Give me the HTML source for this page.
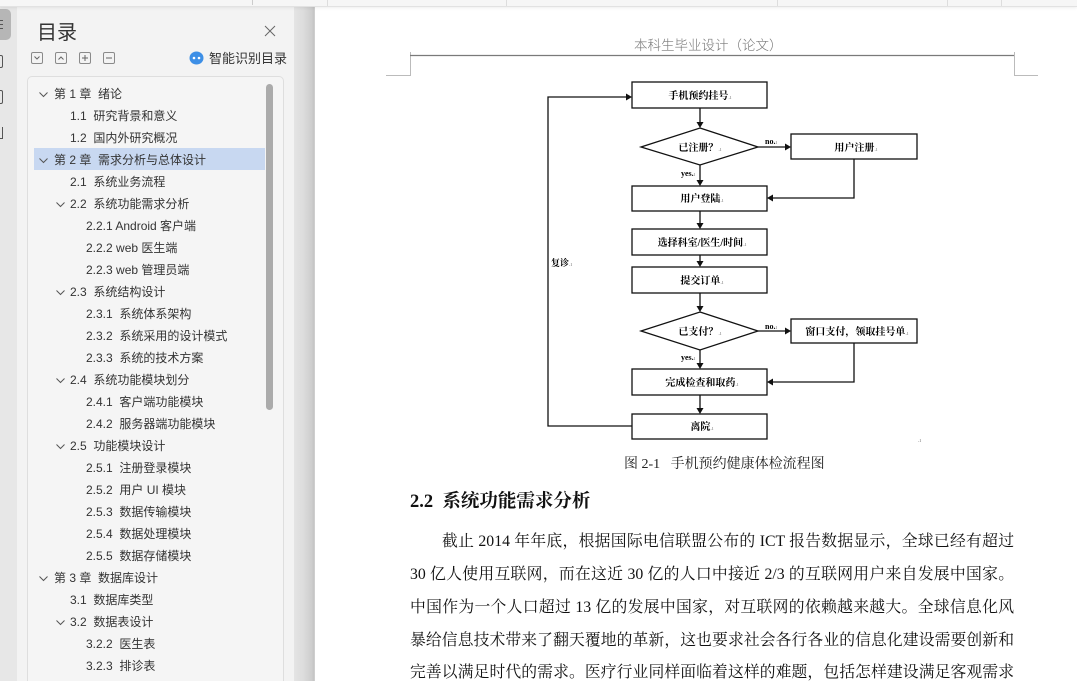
<!DOCTYPE html>
<html><head><meta charset="utf-8">
<style>
*{margin:0;padding:0;box-sizing:border-box}
html,body{width:1077px;height:681px;overflow:hidden;background:#fff}
body{position:relative;font-family:"Liberation Sans","Noto Sans CJK SC",sans-serif}
.abs{position:absolute}
#topbar{left:0;top:0;width:1077px;height:7px;background:#f6f6f6;border-bottom:1px solid #e2e2e2;box-shadow:0 1px 3px rgba(0,0,0,.07);z-index:5}
#strip{left:0;top:0;width:17px;height:681px;background:#e7e7e7}
#panel{left:17px;top:0;width:277px;height:681px;background:#f3f3f3}
#grad{left:294px;top:0;width:21px;height:681px;background:linear-gradient(to right,#e4e4e4 0%,#dcdcdc 45%,#cdcdcd 85%,#c2c2c2 97%,#e8e8e8 100%)}
#listbox{left:27px;top:76px;width:257px;height:620px;background:#f5f5f5;border:1px solid #dedede;border-radius:5px}
.row{position:absolute;height:22px;line-height:24px;font-size:12px;color:#333;white-space:nowrap}
.hl{background:#c8d8f1}
.btn{position:absolute;top:52px;width:12px;height:12px;border:1px solid #8a8a8a;border-radius:2px}
.doc{font-family:"Liberation Serif","Noto Serif CJK SC",serif;color:#111}
.pl{position:absolute;left:410px;width:604px;height:22px;line-height:22px;font-size:15.8px;text-align:justify;text-align-last:justify;white-space:nowrap;font-family:"Liberation Serif","Noto Serif CJK SC",serif;color:#111}
</style></head><body>

<div id="strip" class="abs"></div>
<div class="abs" style="left:0;top:9px;width:11px;height:31px;background:#b6b6b6;border-radius:0 5px 5px 0"></div>
<div class="abs" style="left:0;top:20px;width:3px;height:1px;background:#555"></div>
<div class="abs" style="left:0;top:24px;width:3px;height:1px;background:#555"></div>
<div class="abs" style="left:0;top:28px;width:3px;height:1px;background:#555"></div>
<div class="abs" style="left:-4px;top:55px;width:7px;height:13px;border:1px solid #555;border-radius:2px"></div>
<div class="abs" style="left:-4px;top:90px;width:7px;height:14px;border:1px solid #555;border-radius:2px"></div>
<div class="abs" style="left:-3px;top:127px;width:6px;height:12px;border-right:1px solid #555;border-bottom:1px solid #555"></div>

<div id="panel" class="abs"></div>
<div id="grad" class="abs"></div>

<div class="abs" style="left:37px;top:18px;font-size:20px;line-height:26px;color:#333;font-family:'Noto Sans CJK SC',sans-serif">目录</div>
<svg class="abs" style="left:264px;top:25px" width="12" height="12"><path d="M1 1L11 11M11 1L1 11" stroke="#666" stroke-width="1"/></svg>

<div class="btn" style="left:31px"><svg width="10" height="10" style="display:block"><polyline points="2.5,3.5 5,6 7.5,3.5" fill="none" stroke="#666"/></svg></div>
<div class="btn" style="left:55px"><svg width="10" height="10" style="display:block"><polyline points="2.5,6.5 5,4 7.5,6.5" fill="none" stroke="#666"/></svg></div>
<div class="btn" style="left:79px"><svg width="10" height="10" style="display:block"><path d="M2 5H8M5 2V8" stroke="#666"/></svg></div>
<div class="btn" style="left:103px"><svg width="10" height="10" style="display:block"><path d="M2 5H8" stroke="#666"/></svg></div>

<svg class="abs" style="left:189px;top:51px" width="15" height="14"><ellipse cx="7.5" cy="7" rx="7" ry="6.5" fill="#3d8fe6"/><circle cx="5" cy="7" r="1.3" fill="#fff"/><circle cx="10" cy="7" r="1.3" fill="#fff"/></svg>
<div class="abs" style="left:209px;top:49px;font-size:13px;line-height:18px;color:#333;font-family:'Noto Sans CJK SC',sans-serif">智能识别目录</div>

<div id="listbox" class="abs"></div>
<div class="abs hl" style="left:34px;top:148px;width:231px;height:22px"></div>
<div class="abs" style="left:266px;top:84px;width:7px;height:326px;background:#ababab;border-radius:4px"></div>

<div id="toc">
<svg class="abs" style="left:39px;top:92px" width="10" height="6"><polyline points="0.5,0.5 4.5,4.5 8.5,0.5" fill="none" stroke="#555"/></svg>
<div class="row" style="left:54px;top:82px">第 1 章&nbsp; 绪论</div>
<div class="row" style="left:70px;top:104px">1.1&nbsp; 研究背景和意义</div>
<div class="row" style="left:70px;top:126px">1.2&nbsp; 国内外研究概况</div>
<svg class="abs" style="left:39px;top:158px" width="10" height="6"><polyline points="0.5,0.5 4.5,4.5 8.5,0.5" fill="none" stroke="#555"/></svg>
<div class="row" style="left:54px;top:148px">第 2 章&nbsp; 需求分析与总体设计</div>
<div class="row" style="left:70px;top:170px">2.1&nbsp; 系统业务流程</div>
<svg class="abs" style="left:56px;top:202px" width="10" height="6"><polyline points="0.5,0.5 4.5,4.5 8.5,0.5" fill="none" stroke="#555"/></svg>
<div class="row" style="left:70px;top:192px">2.2&nbsp; 系统功能需求分析</div>
<div class="row" style="left:86px;top:214px">2.2.1 Android 客户端</div>
<div class="row" style="left:86px;top:236px">2.2.2 web 医生端</div>
<div class="row" style="left:86px;top:258px">2.2.3 web 管理员端</div>
<svg class="abs" style="left:56px;top:290px" width="10" height="6"><polyline points="0.5,0.5 4.5,4.5 8.5,0.5" fill="none" stroke="#555"/></svg>
<div class="row" style="left:70px;top:280px">2.3&nbsp; 系统结构设计</div>
<div class="row" style="left:86px;top:302px">2.3.1&nbsp; 系统体系架构</div>
<div class="row" style="left:86px;top:324px">2.3.2&nbsp; 系统采用的设计模式</div>
<div class="row" style="left:86px;top:346px">2.3.3&nbsp; 系统的技术方案</div>
<svg class="abs" style="left:56px;top:378px" width="10" height="6"><polyline points="0.5,0.5 4.5,4.5 8.5,0.5" fill="none" stroke="#555"/></svg>
<div class="row" style="left:70px;top:368px">2.4&nbsp; 系统功能模块划分</div>
<div class="row" style="left:86px;top:390px">2.4.1&nbsp; 客户端功能模块</div>
<div class="row" style="left:86px;top:412px">2.4.2&nbsp; 服务器端功能模块</div>
<svg class="abs" style="left:56px;top:444px" width="10" height="6"><polyline points="0.5,0.5 4.5,4.5 8.5,0.5" fill="none" stroke="#555"/></svg>
<div class="row" style="left:70px;top:434px">2.5&nbsp; 功能模块设计</div>
<div class="row" style="left:86px;top:456px">2.5.1&nbsp; 注册登录模块</div>
<div class="row" style="left:86px;top:478px">2.5.2&nbsp; 用户 UI 模块</div>
<div class="row" style="left:86px;top:500px">2.5.3&nbsp; 数据传输模块</div>
<div class="row" style="left:86px;top:522px">2.5.4&nbsp; 数据处理模块</div>
<div class="row" style="left:86px;top:544px">2.5.5&nbsp; 数据存储模块</div>
<svg class="abs" style="left:39px;top:576px" width="10" height="6"><polyline points="0.5,0.5 4.5,4.5 8.5,0.5" fill="none" stroke="#555"/></svg>
<div class="row" style="left:54px;top:566px">第 3 章&nbsp; 数据库设计</div>
<div class="row" style="left:70px;top:588px">3.1&nbsp; 数据库类型</div>
<svg class="abs" style="left:56px;top:620px" width="10" height="6"><polyline points="0.5,0.5 4.5,4.5 8.5,0.5" fill="none" stroke="#555"/></svg>
<div class="row" style="left:70px;top:610px">3.2&nbsp; 数据表设计</div>
<div class="row" style="left:86px;top:632px">3.2.2&nbsp; 医生表</div>
<div class="row" style="left:86px;top:654px">3.2.3&nbsp; 排诊表</div>
</div>

<div id="topbar" class="abs"></div>
<div class="abs" style="left:252px;top:0;width:1px;height:5px;background:#ccc;z-index:6"></div>
<div class="abs" style="left:327px;top:0;width:1px;height:6px;background:#ddd;z-index:6"></div>
<div class="abs" style="left:506px;top:0;width:1px;height:6px;background:#ddd;z-index:6"></div>
<div class="abs" style="left:777px;top:0;width:1px;height:6px;background:#ddd;z-index:6"></div>
<div class="abs" style="left:947px;top:0;width:1px;height:6px;background:#ddd;z-index:6"></div>
<div class="abs" style="left:1001px;top:0;width:1px;height:6px;background:#ddd;z-index:6"></div>

<div class="abs" style="left:634px;top:35px;width:150px;font-size:13.5px;line-height:18px;color:#777;white-space:nowrap;font-family:'Noto Sans CJK SC',sans-serif;font-weight:300">本科生毕业设计（论文）</div>

<svg class="abs" style="left:0;top:0" width="1077" height="681">
<g stroke="#bbb" stroke-width="1" fill="none">
<path d="M410.5 52V75.5H386M1014.5 52V75.5H1038"/>
</g>
<path d="M410 55.5H1014" stroke="#7a7a7a" stroke-width="1.3"/>

<g stroke="#111" stroke-width="1.3" fill="#fff">
<rect x="632" y="82" width="135" height="26"/>
<polygon points="700,128 758,147 700,165 641,147"/>
<rect x="791" y="134" width="126" height="25"/>
<rect x="632" y="186" width="135" height="25"/>
<rect x="632" y="229" width="135" height="26"/>
<rect x="632" y="267" width="135" height="26"/>
<polygon points="700,312 758,331 700,350 641,331"/>
<rect x="791" y="319" width="126" height="24"/>
<rect x="632" y="369" width="135" height="26"/>
<rect x="632" y="414" width="135" height="25"/>
</g>
<g stroke="#111" stroke-width="1.3" fill="none">
<path d="M700 108V123M758 147H786M700 165V181M854 159V198H772M700 211V224M700 255V262M700 293V307M758 331H786M700 350V364M854 343V382H772M700 395V409M632 426H548V97H627"/>
</g>
<g fill="#111">
<polygon points="696.5,122 703.5,122 700,128"/>
<polygon points="785,143.5 785,150.5 791,147"/>
<polygon points="696.5,180 703.5,180 700,186"/>
<polygon points="773,194.5 773,201.5 767,198"/>
<polygon points="696.5,223 703.5,223 700,229"/>
<polygon points="696.5,261 703.5,261 700,267"/>
<polygon points="696.5,306 703.5,306 700,312"/>
<polygon points="785,327.5 785,334.5 791,331"/>
<polygon points="696.5,363 703.5,363 700,369"/>
<polygon points="773,378.5 773,385.5 767,382"/>
<polygon points="696.5,408 703.5,408 700,414"/>
<polygon points="626,93.5 626,100.5 632,97"/>
</g>
<g font-family="Liberation Serif, Noto Serif CJK SC, serif" font-weight="700" font-size="10" fill="#000" text-anchor="middle">
<text x="700" y="99">手机预约挂号<tspan font-size="6" fill="#888" font-weight="400">.ı</tspan></text>
<text x="700" y="151">已注册？<tspan font-size="6" fill="#888" font-weight="400">.ı</tspan></text>
<text x="856" y="151">用户注册<tspan font-size="6" fill="#888" font-weight="400">.ı</tspan></text>
<text x="702" y="202">用户登陆<tspan font-size="6" fill="#888" font-weight="400">.ı</tspan></text>
<text x="702" y="246">选择科室/医生/时间<tspan font-size="6" fill="#888" font-weight="400">.ı</tspan></text>
<text x="702" y="284">提交订单<tspan font-size="6" fill="#888" font-weight="400">.ı</tspan></text>
<text x="700" y="335">已支付？<tspan font-size="6" fill="#888" font-weight="400">.ı</tspan></text>
<text x="857" y="335">窗口支付，领取挂号单<tspan font-size="6" fill="#888" font-weight="400">.ı</tspan></text>
<text x="702" y="386">完成检查和取药<tspan font-size="6" fill="#888" font-weight="400">.ı</tspan></text>
<text x="702" y="430">离院<tspan font-size="6" fill="#888" font-weight="400">.ı</tspan></text>
</g>
<g font-family="Liberation Serif, Noto Serif CJK SC, serif" font-weight="700" font-size="8" fill="#000">
<text x="765" y="144">no.<tspan font-size="6" fill="#888" font-weight="400">ı</tspan></text>
<text x="765" y="329">no.<tspan font-size="6" fill="#888" font-weight="400">ı</tspan></text>
<text x="681" y="176">yes.<tspan font-size="6" fill="#888" font-weight="400">ı</tspan></text>
<text x="681" y="360">yes.<tspan font-size="6" fill="#888" font-weight="400">ı</tspan></text>
<text x="551" y="266" font-size="9">复诊<tspan font-size="6" fill="#888" font-weight="400">.ı</tspan></text>
<text x="918" y="442" font-size="6" fill="#888" font-weight="400">.ı</text>
</g>
</svg>

<div class="abs doc" style="left:624px;top:456px;font-size:14px;line-height:18px;white-space:nowrap;color:#222">图 2-1&nbsp;&nbsp; 手机预约健康体检流程图</div>

<div class="abs doc" style="left:410px;top:490px;font-size:18.5px;line-height:24px;font-weight:700;white-space:nowrap">2.2&nbsp; 系统功能需求分析</div>

<div class="pl" style="top:531px;left:442px;width:572px">截止 2014 年年底，根据国际电信联盟公布的 ICT 报告数据显示，全球已经有超过</div>
<div class="pl" style="top:564px">30 亿人使用互联网，而在这近 30 亿的人口中接近 2/3 的互联网用户来自发展中国家。</div>
<div class="pl" style="top:597px">中国作为一个人口超过 13 亿的发展中国家，对互联网的依赖越来越大。全球信息化风</div>
<div class="pl" style="top:630px">暴给信息技术带来了翻天覆地的革新，这也要求社会各行各业的信息化建设需要创新和</div>
<div class="pl" style="top:662px">完善以满足时代的需求。医疗行业同样面临着这样的难题，包括怎样建设满足客观需求</div>

</body></html>
